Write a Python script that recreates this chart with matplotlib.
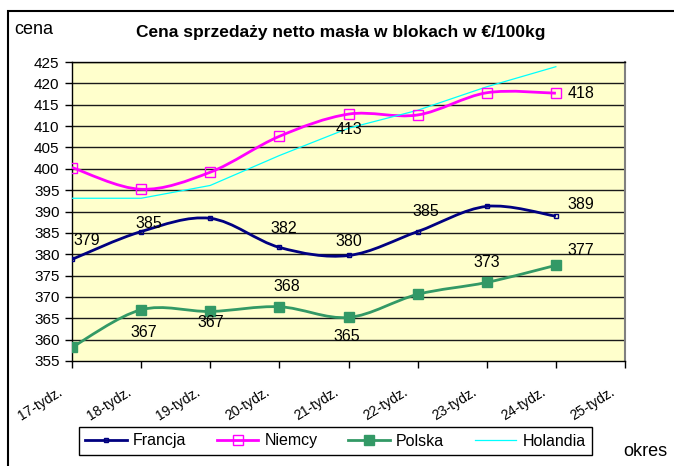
import numpy as np
import matplotlib
matplotlib.use('Agg')
import matplotlib.pyplot as plt
import matplotlib.transforms as mtransforms
from matplotlib.path import Path
from matplotlib.patches import PathPatch, Rectangle
from matplotlib.lines import Line2D

plt.rcParams['font.family'] = ['Liberation Sans', 'DejaVu Sans']

# dane
tygodnie = ['17-tydz.', '18-tydz.', '19-tydz.', '20-tydz.', '21-tydz.',
            '22-tydz.', '23-tydz.', '24-tydz.', '25-tydz.']
francja = [378.8, 385.3, 388.4, 381.6, 379.7, 385.3, 391.2, 388.9]
niemcy = [400.3, 395.2, 399.2, 407.6, 412.8, 412.6, 417.8, 417.7]
polska = [358.2, 367.0, 366.6, 367.7, 365.2, 370.6, 373.4, 377.4]
holandia = [393.1, 393.1, 396.1, 403.1, 409.5, 413.7, 419.2, 423.9]


def gladka_sciezka(x, y):
    # wygladzona linia jak w Excelu (krzywe Beziera przez punkty)
    p = np.column_stack([x, y]).astype(float)
    n = len(p)
    verts = [p[0]]
    codes = [Path.MOVETO]
    for i in range(n - 1):
        p0 = p[i - 1] if i > 0 else p[i]
        p3 = p[i + 2] if i + 2 < n else p[i + 1]
        c1 = p[i] + (p[i + 1] - p0) / 6
        c2 = p[i + 1] - (p3 - p[i]) / 6
        verts += [c1, c2, p[i + 1]]
        codes += [Path.CURVE4] * 3
    return Path(verts, codes)


fig = plt.figure(figsize=(6.74, 4.66), dpi=100)
ax = fig.add_axes([72 / 674, 1 - 361 / 466, 553 / 674, 299 / 466])
ax.set_facecolor('#FFFFCC')

x = np.arange(len(francja))

serie = [
    ('Francja', francja, '#000080', 2.0, 's', 3.5, 'none'),
    ('Niemcy', niemcy, '#FF00FF', 2.0, 's', 7, 'none'),
    ('Polska', polska, '#339966', 2.0, 's', 6.5, '#339966'),
]
uchwyty = []
for nazwa, y, kolor, lw, mk, ms, mfc in serie:
    ax.add_patch(PathPatch(gladka_sciezka(x, y), facecolor='none',
                           edgecolor=kolor, lw=lw, zorder=3))
    ax.plot(x, y, ls='none', marker=mk, ms=ms, mfc=mfc, mec=kolor,
            mew=1.0, zorder=4)
    uchwyty.append(Line2D([], [], color=kolor, lw=lw, marker=mk, ms=ms,
                          mfc=mfc, mec=kolor, mew=1.0, label=nazwa))
ax.plot(x, holandia, color='#00FFFF', lw=0.9, zorder=3)
uchwyty.append(Line2D([], [], color='#00FFFF', lw=0.9, label='Holandia'))

# etykiety danych: (indeks, przesuniecie x, przesuniecie y w pikselach, wyrownanie)
etykiety = [
    (francja, [(0, 1, 19, 'left'), (1, 8, 8, 'center'), (3, 4, 19, 'center'),
               (4, 0, 14, 'center'), (5, 8, 20, 'center'), (7, 12, 12, 'left')]),
    (niemcy, [(4, 0, -15, 'center'), (7, 12, 0, 'left')]),
    (polska, [(1, 3, -23, 'center'), (2, 1, -11, 'center'), (3, 7, 20, 'center'),
              (4, -2, -19, 'center'), (6, 0, 20, 'center'), (7, 12, 15, 'left')]),
]
for y, lista in etykiety:
    for i, dx, dy, ha in lista:
        ax.annotate(f'{round(y[i])}', (x[i], y[i]), xytext=(dx, dy),
                    textcoords='offset pixels', ha=ha, va='center',
                    fontsize=11.5, zorder=5)

ax.set_xlim(0, 8)
ax.set_ylim(355, 425)
ax.set_yticks(np.arange(355, 426, 5))
ax.set_xticks(np.arange(len(tygodnie)))
ax.set_xticklabels(tygodnie, rotation=32, ha='right', rotation_mode='anchor')
ax.tick_params(axis='both', direction='out', length=5, width=1,
               color='black', labelsize=11)
ax.tick_params(axis='x', pad=12, labelsize=10)
ax.tick_params(axis='y', pad=4)
przes = mtransforms.ScaledTranslation(-0.15, 0, fig.dpi_scale_trans)
for t in ax.get_xticklabels():
    t.set_transform(t.get_transform() + przes)
for g in np.arange(360, 426, 5):
    ax.axhline(g, color='#1a1a1a', lw=1.0, zorder=1)
for s in ['left', 'bottom', 'top']:
    ax.spines[s].set_color('black')
    ax.spines[s].set_linewidth(1.0)
ax.spines['right'].set_color('#808080')
ax.spines['right'].set_linewidth(1.5)

fig.text(341 / 674, 1 - 33 / 466,
         'Cena sprzedaży netto masła w blokach w €/100kg',
         ha='center', va='center', fontsize=12.5, fontweight='bold')
fig.text(14 / 674, 1 - 29 / 466, 'cena', ha='left', va='center', fontsize=13)
fig.text(623 / 674, 1 - 452 / 466, 'okres', ha='left', va='center', fontsize=13)

leg = fig.legend(handles=uchwyty, ncol=4, loc='center',
                 bbox_to_anchor=(335.5 / 674, 1 - 441 / 466),
                 fontsize=11.5, frameon=True, fancybox=False,
                 edgecolor='black', framealpha=1, handlelength=2.6,
                 columnspacing=1.9, borderpad=0.4, handletextpad=0.4)
leg.get_frame().set_linewidth(1.0)

fig.add_artist(Rectangle((8 / 674, -0.1), 1.0, 1 - 11 / 466 + 0.1,
                         transform=fig.transFigure, fill=False,
                         edgecolor='black', lw=1.5, clip_on=False))

fig.savefig('out.png', dpi=100)
